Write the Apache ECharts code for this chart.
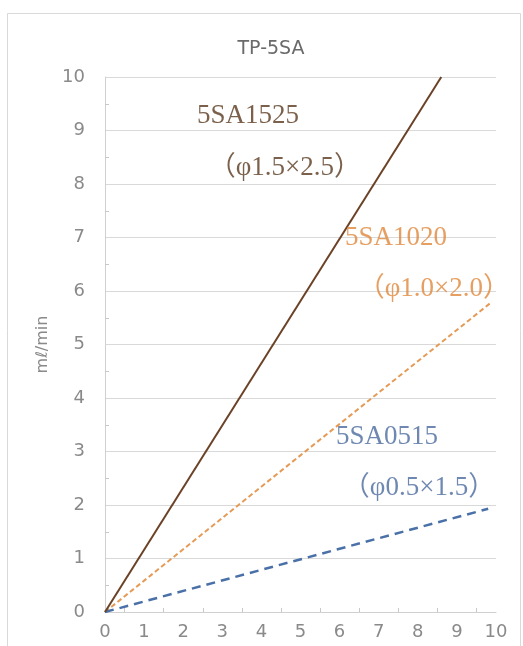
<!DOCTYPE html>
<html>
<head>
<meta charset="utf-8">
<script src="https://cdn.jsdelivr.net/npm/echarts@6/dist/echarts.min.js"></script>
<style>
html,body{margin:0;padding:0;background:#fff;}
#chart{width:523px;height:646px;}
</style>
</head>
<body>
<div id="chart"></div>
<script>
// Data
const titleText = 'TP-5SA';
const yAxisName = 'mℓ/min';
const xTicks = [0, 1, 2, 3, 4, 5, 6, 7, 8, 9, 10];
const yTicks = [0, 1, 2, 3, 4, 5, 6, 7, 8, 9, 10];

const line5SA1525 = [[0, 0], [8.6, 10]];
const line5SA1020 = [[0, 0], [9.9, 5.8]];
const line5SA0515 = [[0, 0], [9.8, 1.93]];

const labels5SA1525 = [['5SA1525', 3.66, 9.27], ['（φ1.5×2.5）', 4.6, 8.3]];
const labels5SA1020 = [['5SA1020', 7.44, 6.99], ['（φ1.0×2.0）', 8.41, 6.04]];
const labels5SA0515 = [['5SA0515', 7.21, 3.27], ['（φ0.5×1.5）', 8.03, 2.32]];

const BROWN = '#6b4226', BROWN_TXT = '#5a3a1f';
const ORANGE = '#e59a55', ORANGE_TXT = '#e0873a';
const BLUE = '#4a70a8', BLUE_TXT = '#4a6a9e';

function textSeries(arr, color) {
  return {
    type: 'scatter',
    symbolSize: 0,
    silent: true,
    z: 5,
    data: arr.map(a => ({ value: [a[1], a[2]], name: a[0] })),
    label: {
      show: true,
      position: 'inside',
      formatter: p => p.name,
      color: color,
      fontFamily: '"Liberation Serif", "Noto Sans CJK JP", serif',
      fontSize: 27
    }
  };
}

const chart = echarts.init(document.getElementById('chart'));
chart.setOption({
  backgroundColor: '#fff',
  animation: false,
  graphic: [{
    type: 'rect',
    shape: { x: 7.5, y: 13.5, width: 513, height: 700 },
    style: { fill: 'none', stroke: '#d9d9d9', lineWidth: 1 },
    silent: true
  }],
  title: {
    text: titleText,
    left: 266,
    textAlign: 'center',
    top: 35,
    textStyle: { color: '#6a6a6a', fontSize: 19, fontWeight: 'normal', fontFamily: '"DejaVu Sans", sans-serif' }
  },
  grid: { left: 105, right: 27, top: 77, bottom: 34 },
  xAxis: {
    type: 'value',
    min: xTicks[0], max: xTicks[xTicks.length - 1], interval: 1,
    axisLine: { show: true, lineStyle: { color: '#d0d0d0' } },
    axisTick: { show: false, inside: true },
    minorTick: { show: true, splitNumber: 2, length: 4, lineStyle: { color: '#c8c8c8' } },
    splitLine: { show: false },
    axisLabel: { color: '#8a8a8a', fontSize: 18, margin: 11, fontFamily: '"DejaVu Sans", sans-serif' }
  },
  yAxis: {
    type: 'value',
    min: yTicks[0], max: yTicks[yTicks.length - 1], interval: 1,
    name: yAxisName,
    nameLocation: 'middle',
    nameGap: 50,
    nameTextStyle: { color: '#8a8a8a', fontSize: 16, fontFamily: '"DejaVu Sans", sans-serif' },
    axisLine: { show: true, lineStyle: { color: '#d0d0d0' } },
    axisTick: { show: false, inside: true },
    minorTick: { show: true, splitNumber: 2, length: 4, lineStyle: { color: '#c8c8c8' } },
    splitLine: { show: true, lineStyle: { color: '#d9d9d9', width: 1 } },
    axisLabel: { color: '#8a8a8a', fontSize: 18, margin: 20, fontFamily: '"DejaVu Sans", sans-serif' }
  },
  series: [
    {
      name: '5SA1525', type: 'line', data: line5SA1525, showSymbol: false, symbol: 'none',
      lineStyle: { color: BROWN, width: 2 }, z: 4
    },
    {
      name: '5SA1020', type: 'line', data: line5SA1020, showSymbol: false, symbol: 'none',
      lineStyle: { color: ORANGE, width: 2, type: [5, 3] }, z: 3
    },
    {
      name: '5SA0515', type: 'line', data: line5SA0515, showSymbol: false, symbol: 'none',
      lineStyle: { color: BLUE, width: 2.5, type: [9, 6] }, z: 3
    },
    textSeries(labels5SA1525, BROWN_TXT),
    textSeries(labels5SA1020, ORANGE_TXT),
    textSeries(labels5SA0515, BLUE_TXT)
  ]
});
</script>
</body>
</html>
